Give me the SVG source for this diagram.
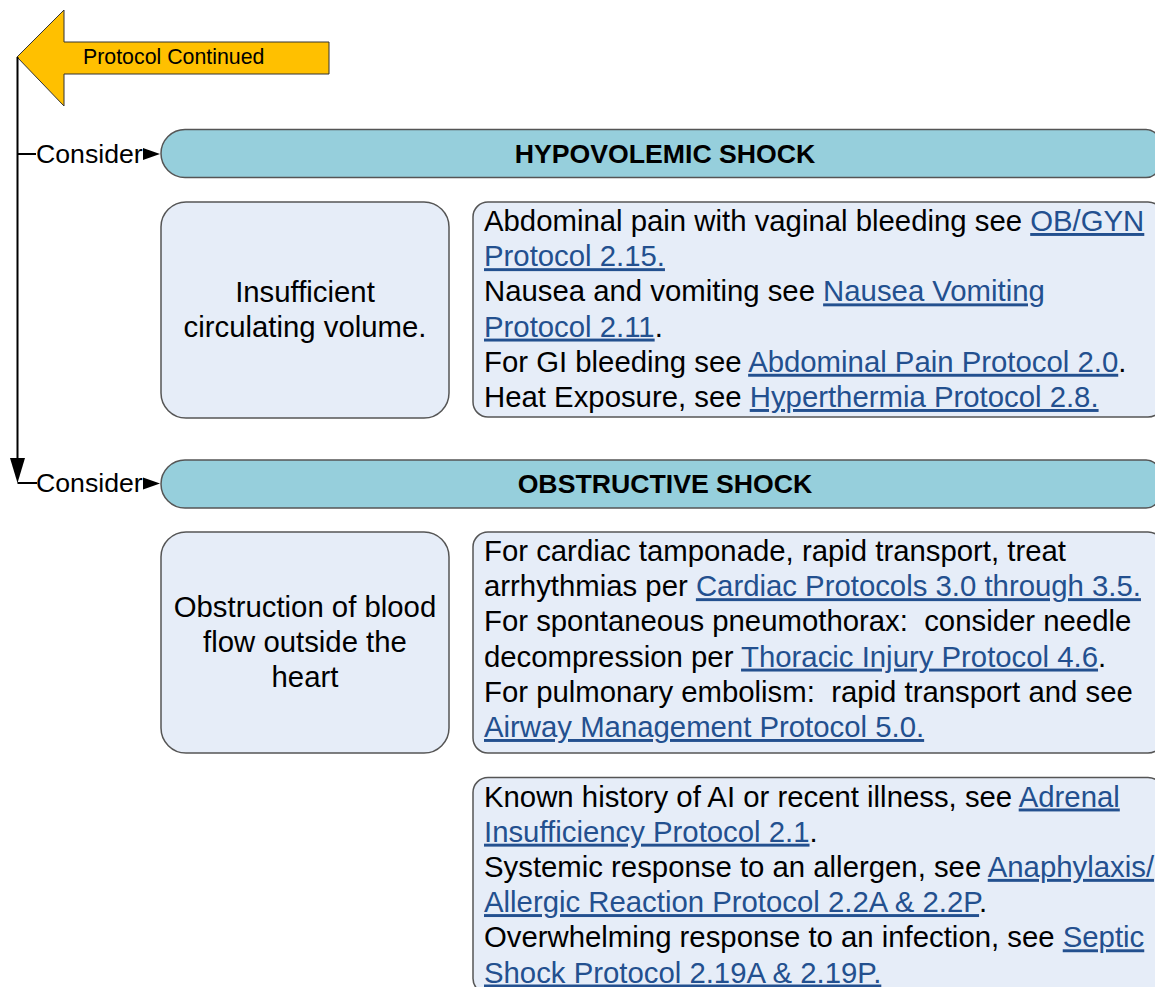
<svg xmlns="http://www.w3.org/2000/svg" width="1155" height="987" viewBox="0 0 1155 987">
<style>
text{font-family:"Liberation Sans",Arial,sans-serif;fill:#000}
.body{font-size:29.33px}
.hdr{font-size:26.67px;font-weight:bold}
.lbl{font-size:26.67px}
.lnk{fill:#23508F;text-decoration:underline}
.header{fill:#96CFDC;stroke:#555;stroke-width:1.5}
.box{fill:#E6EDF8;stroke:#555;stroke-width:1.5}
.line{stroke:#000;stroke-width:2;fill:none}
</style>
<rect width="1155" height="987" fill="#fff"/>
<g id="protocol-continued">
<polygon points="17,57 64,10 64,42 329,42 329,74 64,74 64,106" fill="#FFC000" stroke="#333" stroke-width="1"/>
<text x="83" y="63.5" style="font-size:21.33px">Protocol Continued</text>
</g>
<g id="connectors">
<path class="line" d="M17.5,57 V460"/>
<polygon points="10,458 25,458 17.5,483" fill="#000"/>
<path class="line" d="M17.5,154 H36"/>
<path class="line" d="M17.5,483 H37"/>
<polygon points="143,148 160,154 143,160" fill="#000"/>
<polygon points="143,477.5 160,483.5 143,489.5" fill="#000"/>
<text class="lbl" x="36" y="162.5">Consider</text>
<text class="lbl" x="36" y="492">Consider</text>
</g>
<g id="hypovolemic-header">
<path class="header" d="M185,129.5 H1146 A14,14 0 0 1 1160,143.5 V163.5 A14,14 0 0 1 1146,177.5 H185 A24,24 0 0 1 185,129.5 Z"/>
<text class="hdr" x="665" y="162.5" text-anchor="middle">HYPOVOLEMIC SHOCK</text>
</g>
<g id="hypovolemic-cause">
<rect class="box" x="161" y="202" width="288" height="216" rx="25"/>
<text class="body" x="305" y="301.5" text-anchor="middle">Insufficient</text>
<text class="body" x="305" y="336.5" text-anchor="middle">circulating volume.</text>
</g>
<g id="hypovolemic-actions">
<rect class="box" x="473" y="202" width="690" height="215" rx="15"/>
<text class="body" x="484" y="231" xml:space="preserve">Abdominal pain with vaginal bleeding see <tspan class="lnk">OB/GYN</tspan></text>
<text class="body" x="484" y="266.2"><tspan class="lnk">Protocol 2.15.</tspan></text>
<text class="body" x="484" y="301.4" xml:space="preserve">Nausea and vomiting see <tspan class="lnk">Nausea Vomiting</tspan></text>
<text class="body" x="484" y="336.6"><tspan class="lnk">Protocol 2.11</tspan>.</text>
<text class="body" x="484" y="371.8" xml:space="preserve">For GI bleeding see <tspan class="lnk">Abdominal Pain Protocol 2.0</tspan>.</text>
<text class="body" x="484" y="407" xml:space="preserve">Heat Exposure, see <tspan class="lnk">Hyperthermia Protocol 2.8.</tspan></text>
</g>
<g id="obstructive-header">
<path class="header" d="M185,460 H1146 A14,14 0 0 1 1160,474 V494 A14,14 0 0 1 1146,508 H185 A24,24 0 0 1 185,460 Z"/>
<text class="hdr" x="665" y="492.5" text-anchor="middle">OBSTRUCTIVE SHOCK</text>
</g>
<g id="obstructive-cause">
<rect class="box" x="161" y="532" width="288" height="221" rx="25"/>
<text class="body" x="305" y="616.5" text-anchor="middle">Obstruction of blood</text>
<text class="body" x="305" y="651.7" text-anchor="middle">flow outside the</text>
<text class="body" x="305" y="686.9" text-anchor="middle">heart</text>
</g>
<g id="obstructive-actions">
<rect class="box" x="473" y="532" width="690" height="221" rx="15"/>
<text class="body" x="484" y="561">For cardiac tamponade, rapid transport, treat</text>
<text class="body" x="484" y="596.2" xml:space="preserve">arrhythmias per <tspan class="lnk">Cardiac Protocols 3.0 through 3.5.</tspan></text>
<text class="body" x="484" y="631.4" xml:space="preserve">For spontaneous pneumothorax:  consider needle</text>
<text class="body" x="484" y="666.6" xml:space="preserve">decompression per <tspan class="lnk">Thoracic Injury Protocol 4.6</tspan>.</text>
<text class="body" x="484" y="701.8" xml:space="preserve">For pulmonary embolism:  rapid transport and see</text>
<text class="body" x="484" y="737"><tspan class="lnk">Airway Management Protocol 5.0.</tspan></text>
</g>
<g id="other-causes">
<rect class="box" x="473" y="777.5" width="690" height="216" rx="15"/>
<text class="body" x="484" y="806.5" xml:space="preserve">Known history of AI or recent illness, see <tspan class="lnk">Adrenal</tspan></text>
<text class="body" x="484" y="841.7"><tspan class="lnk">Insufficiency Protocol 2.1</tspan>.</text>
<text class="body" x="484" y="876.9" xml:space="preserve">Systemic response to an allergen, see <tspan class="lnk">Anaphylaxis/</tspan></text>
<text class="body" x="484" y="912.1"><tspan class="lnk">Allergic Reaction Protocol 2.2A &amp; 2.2P</tspan>.</text>
<text class="body" x="484" y="947.3" xml:space="preserve">Overwhelming response to an infection, see <tspan class="lnk">Septic</tspan></text>
<text class="body" x="484" y="982.5"><tspan class="lnk">Shock Protocol 2.19A &amp; 2.19P.</tspan></text>
</g>
</svg>
